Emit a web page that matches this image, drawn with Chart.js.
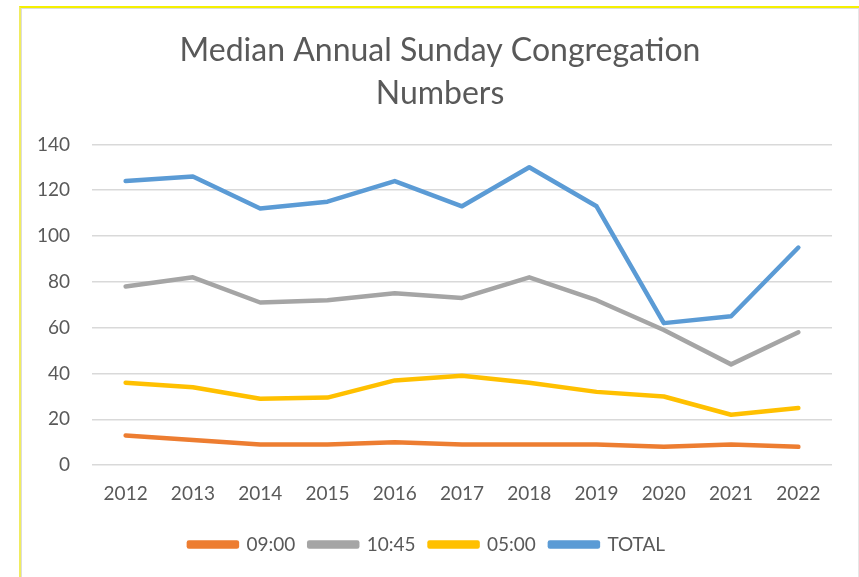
<!DOCTYPE html>
<html>
<head>
<meta charset="utf-8">
<script src="https://cdn.jsdelivr.net/npm/chart.js@4.4.1/dist/chart.umd.min.js"></script>
<style>
    html, body { margin: 0; padding: 0; background: #fff; }
    body { width: 859px; height: 577px; position: relative; overflow: hidden; }
    .frame {
        position: absolute; left: 19px; top: 6px; right: 0; bottom: 0;
        border-top: 2px solid #f5f000; border-left: 2px solid #f0ec60;
    }
    .inner {
        position: absolute; left: 0; top: 0; width: 836px; height: 569px;
        border-left: 1px solid #dcdcdc; border-top: 1px solid #dcdcdc; border-right: 1px solid #e6e6e6;
    }
    .wrap { position: absolute; left: 0; top: 0; width: 836px; height: 568px; }
</style>
</head>
<body>
<div class="frame"><div class="inner"><div class="wrap"><canvas id="congChart"></canvas></div></div></div>
<script>
// years on the x axis
const years = ['2012', '2013', '2014', '2015', '2016', '2017', '2018', '2019', '2020', '2021', '2022'];

// median attendance per service
const service0900 = [13, 11, 9, 9, 10, 9, 9, 9, 8, 9, 8];
const service1045 = [78, 82, 71, 72, 75, 73, 82, 72, 59, 44, 58];
const service0500 = [36, 34, 29, 29.5, 37, 39, 36, 32, 30, 22, 25];
const totals = [124, 126, 112, 115, 124, 113, 130, 113, 62, 65, 95];

const textColor = '#595959';
const fontName = 'Lato, "Open Sans", sans-serif';

function lineSet(label, data, color) {
    return {
        label: label,
        data: data,
        borderColor: color,
        backgroundColor: color,
        borderWidth: 4.5,
        borderCapStyle: 'round',
        borderJoinStyle: 'round',
        pointRadius: 0,
        tension: 0
    };
}

// title is centred on the whole box, not the padded one
const titleShift = {
    id: 'titleShift',
    afterLayout(chart) {
        const t = chart.titleBlock;
        if (t) {
            t.right += 26;
            t.width += 26;
        }
    }
};

const ctx = document.getElementById('congChart').getContext('2d');

new Chart(ctx, {
    type: 'line',
    data: {
        labels: years,
        datasets: [
            lineSet('09:00', service0900, '#ED7D31'),
            lineSet('10:45', service1045, '#A5A5A5'),
            lineSet('05:00', service0500, '#FFC000'),
            lineSet('TOTAL', totals, '#5B9BD5')
        ]
    },
    plugins: [titleShift],
    options: {
        responsive: true,
        maintainAspectRatio: false,
        animation: false,
        layout: { padding: { left: 0, right: 26, top: 12, bottom: 13 } },
        plugins: {
            title: {
                display: true,
                text: ['Median Annual Sunday Congregation', 'Numbers'],
                color: textColor,
                font: { family: fontName, size: 32, weight: 'normal', lineHeight: 1.35 },
                padding: { top: 8, bottom: 29 }
            },
            legend: {
                position: 'bottom',
                labels: {
                    color: textColor,
                    font: { family: fontName, size: 19 },
                    boxWidth: 48,
                    boxHeight: 4,
                    padding: 14
                }
            },
            tooltip: { enabled: false }
        },
        scales: {
            x: {
                offset: true,
                grid: { display: false },
                border: { display: false },
                ticks: {
                    color: textColor,
                    font: { family: fontName, size: 19 },
                    padding: 9,
                    maxRotation: 0
                },
                afterFit: (scale) => { scale.height += 7; }
            },
            y: {
                min: 0,
                max: 140,
                grid: { color: '#d9d9d9', lineWidth: 1.5, drawTicks: false },
                border: { display: false },
                ticks: {
                    stepSize: 20,
                    color: textColor,
                    font: { family: fontName, size: 19 },
                    padding: 22
                },
                afterFit: (scale) => { scale.width = 70; }
            }
        }
    }
});
</script>
</body>
</html>
